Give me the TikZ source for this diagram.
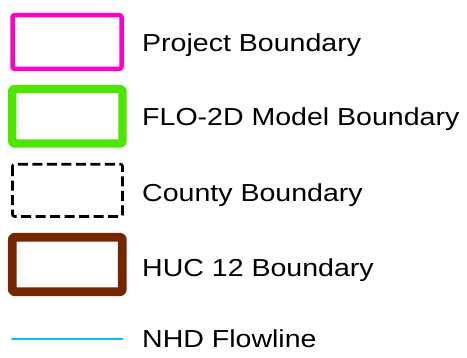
\documentclass[tikz,border=0pt]{standalone}
\usepackage{fontspec}
\setmainfont{Liberation Sans}
\definecolor{projpink}{RGB}{255,0,197}
\definecolor{flogreen}{RGB}{76,230,0}
\definecolor{hucbrown}{RGB}{115,38,0}
\definecolor{nhdblue}{RGB}{0,197,255}
\newcommand{\legtext}[1]{\scalebox{1.16}[1]{#1}}

\begin{document}
\begin{tikzpicture}[x=1pt, y=-1pt,
    legbox/.style={rounded corners=2pt, line join=round},
    legtext/.style={anchor=base west, inner sep=0pt, font=\fontsize{24.6}{28}\selectfont}]
            \useasboundingbox (0,0) rectangle (467,357);

            % draw project box
            \draw[legbox, color=projpink, line width=4.5pt] (12.5,15.2) rectangle (121.5,68.8);
            \node[legtext] (project) at (142,51.7) {\legtext{Project Boundary}};

            % draw model box
            \draw[legbox, color=flogreen, line width=8.3pt] (12.2,89) rectangle (122.5,143.5);
            \node[legtext] (flo2d) at (142,125.7) {\legtext{FLO-2D Model Boundary}};

            % draw county box
            \draw[legbox, color=black, line width=2.6pt, dash pattern=on 10pt off 4.5pt] (12.5,164.2) rectangle (122.5,216.5);
            \node[legtext] (county) at (142,201.7) {\legtext{County Boundary}};

            % draw huc box
            \draw[legbox, color=hucbrown, line width=8.7pt] (12.3,237.3) rectangle (122.3,291.7);
            \node[legtext] (huc) at (142,276) {\legtext{HUC 12 Boundary}};

            % draw flowline
            \draw[color=nhdblue, line width=2.2pt, line cap=round] (12,339.3) -- (122.5,339.3);
            \node[legtext] (nhd) at (142,347.7) {\legtext{NHD Flowline}};
        \end{tikzpicture}
\end{document}
